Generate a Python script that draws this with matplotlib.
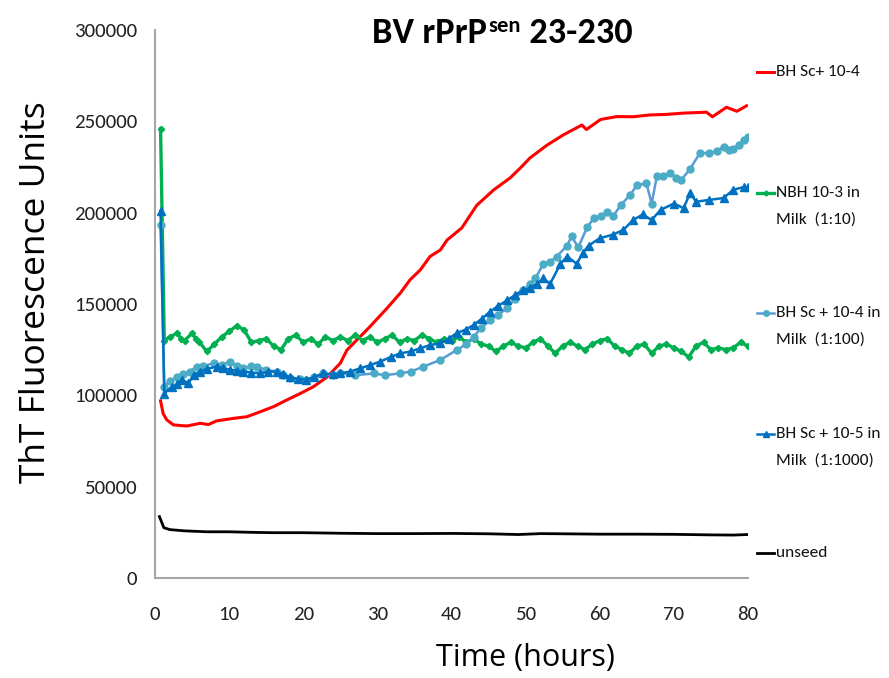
"""
plot.py - ThT fluorescence kinetics, BV rPrPsen 23-230 seeded with milk dilutions.
"""

import matplotlib
import matplotlib.pyplot as plt
from matplotlib.lines import Line2D

matplotlib.use("Agg")

# ---- data (values in fluorescence units) ----
RED_T = [0.75, 1.1, 1.6, 2.5, 4.3, 6.1, 7.2, 8.3, 10.6, 12.4, 14.2, 16.0, 17.8,
         19.6, 21.4, 23.2, 25.0, 25.9, 27.4, 29.0, 31.3, 33.1, 34.4, 35.8, 37.1,
         38.5, 39.4, 41.4, 43.4, 45.7, 47.9, 49.3, 50.6, 52.9, 55.1, 57.6, 58.2,
         60.1, 62.3, 64.5, 66.8, 69.0, 71.3, 74.4, 75.2, 77.1, 78.5, 79.8]
RED_Y = [97000, 90000, 86500, 83800, 83200, 84700, 84000, 86000, 87400, 88300,
         91000, 93800, 97500, 101000, 104800, 110000, 117600, 124800, 131000,
         137600, 147700, 156000, 163200, 168700, 176000, 179600, 185000, 191700,
         204000, 212500, 219000, 224500, 230000, 237000, 242600, 248000, 245500,
         251000, 252600, 252500, 253500, 253800, 254500, 255000, 252500, 257700,
         255500, 258500]

GREEN_T = [0.75, 1.25, 2, 3, 3.5, 4, 5, 5.5, 6, 7, 8, 9, 10, 11, 12, 13, 14, 15,
           16, 17, 18, 19, 20, 21, 22, 23, 24, 25, 26, 27, 28, 29, 30, 31, 32,
           33, 34, 35, 36, 37, 38, 39, 40, 41, 42, 43, 44, 45, 46, 47, 48, 49,
           50, 51, 52, 53, 54, 55, 56, 57, 58, 59, 60, 61, 62, 63, 64, 65, 66,
           67, 68, 69, 70, 71, 72, 73, 74, 75, 76, 77, 78, 79, 80]
GREEN_Y = [246000, 130000, 132000, 134000, 131000, 130000, 134000, 131000, 129000,
           124000, 128000, 132000, 135000, 138000, 136000, 129000, 130000, 131000,
           127000, 125000, 131000, 133000, 129000, 131000, 128000, 132000, 130000,
           132000, 130000, 133000, 130000, 132000, 129000, 131000, 133000, 129000,
           131000, 130000, 133000, 131000, 129000, 131000, 130000, 132000, 129000,
           131000, 128000, 127000, 124000, 127000, 129000, 127000, 126000, 129000,
           131000, 127000, 123000, 127000, 129000, 127000, 125000, 128000, 130000,
           131000, 127000, 125000, 123000, 127000, 128000, 123000, 127000, 128000,
           126000, 124000, 121000, 127000, 129000, 125000, 126000, 125000, 126000,
           129000, 127000]

LBLUE_T = [0.75, 1.25, 2, 3, 3.8, 4.7, 5.6, 6.5, 7.9, 9, 10.1, 11, 11.9, 13, 13.7,
           15, 16.4, 17.3, 18.2, 19.5, 20.4, 21.5, 22.7, 24, 25, 27, 29.5, 31,
           33, 34.5, 36.2, 38.5, 40.7, 42, 43, 44, 45.2, 46.3, 47.5, 48.6, 49.7,
           50.6, 51.3, 52.4, 53.3, 54.2, 55.6, 56.2, 57.1, 58.3, 59.2, 60.2, 61,
           61.8, 62.8, 64.1, 65, 66.3, 67, 67.7, 68.6, 69.5, 70.3, 71, 72.2, 73.5,
           74.8, 75.8, 76.7, 77.4, 78, 78.8, 79.4, 80]
LBLUE_Y = [193000, 104800, 108000, 110000, 111500, 113000, 115700, 116000, 117600,
           116500, 118500, 116000, 114800, 116000, 115700, 114000, 113000, 111000,
           109300, 109000, 108500, 110000, 112000, 111000, 112000, 111000, 112000,
           111000, 112000, 113000, 115700, 119400, 124800, 128000, 132000, 137000,
           141000, 144000, 147700, 153000, 157700, 161000, 164000, 172000, 173000,
           176000, 182000, 187000, 181000, 192000, 197000, 198000, 200600, 198000,
           204000, 209700, 215000, 216000, 205000, 219800, 220000, 221600, 219000,
           218000, 224000, 232600, 232600, 234000, 236000, 234500, 235000, 237000,
           239800, 241600]

DBLUE_T = [0.75, 1.25, 2.3, 3.0, 3.6, 4.5, 5.2, 6.1, 7, 8.3, 9.2, 10.1, 11, 11.9,
           13, 14.2, 15.3, 16.4, 17.3, 18.2, 19.3, 20.4, 21.5, 22.7, 24, 25, 26.3,
           27.7, 29, 30.4, 31.8, 33.1, 34.5, 35.8, 37.1, 38.5, 39.6, 40.7, 41.9,
           43, 44.1, 45.2, 46.3, 47.5, 48.6, 49.7, 50.6, 51.5, 52.4, 53.3, 54.7,
           55.6, 56.9, 57.7, 58.5, 60, 61.8, 63.2, 64.5, 65.8, 67, 68.2, 70, 71.3,
           72.2, 73, 74.8, 76.7, 78, 79.4, 80]
DBLUE_Y = [201000, 101000, 104800, 106000, 108500, 106600, 111000, 113000, 114500,
           115700, 115000, 114000, 113500, 113000, 112500, 112000, 113000, 113000,
           111500, 110000, 109000, 108500, 110000, 112000, 111500, 112000, 113000,
           114800, 116500, 118500, 121000, 123000, 124000, 125800, 127500, 128500,
           131000, 134000, 136000, 138500, 142000, 145800, 149000, 152000, 155000,
           157700, 158600, 161000, 164000, 161000, 172000, 176000, 172000, 178000,
           182000, 186000, 188000, 190600, 196000, 199000, 196000, 201500, 205000,
           202500, 210700, 206000, 207000, 208000, 212500, 214000, 214000]

BLACK_T = [0.6, 1.2, 2, 4, 7, 10, 13, 16, 20, 25, 30, 35, 40, 45, 49, 52, 55, 60,
           65, 70, 75, 78, 80]
BLACK_Y = [33600, 27500, 26500, 25800, 25300, 25300, 25000, 24800, 24800, 24500,
           24300, 24300, 24400, 24200, 23800, 24300, 24200, 24000, 24000, 23900,
           23600, 23500, 23800]

LABELS = ["BH Sc+ 10-4", "NBH 10-3 in\nMilk  (1:10)", "BH Sc + 10-4 in\nMilk  (1:100)",
          "BH Sc + 10-5 in\nMilk  (1:1000)", "unseed"]
X_TICKS = [0, 10, 20, 30, 40, 50, 60, 70, 80]
Y_TICKS = [0, 50000, 100000, 150000, 200000, 250000, 300000]

# Calibri-like narrow faces first; missing ones are skipped
NARROW = ["Carlito", "Archivo Narrow", "PT Sans Narrow", "Roboto Condensed", "DejaVu Sans"]
TITLE_FONT = ["Carlito", "DejaVu Sans"]
AXIS_FONT = ["Open Sans", "DejaVu Sans"]

fig = plt.figure(figsize=(8.89, 6.78), dpi=100)
ax = fig.add_axes([155 / 889, 100 / 678, 593 / 889, 548 / 678])

styles = [
    dict(color="#FF0000", lw=2.2),
    dict(color="#00B050", lw=2.4, marker="D", ms=3.2, mfc="#00B050", mec="#00B050"),
    dict(color="#5B9BD5", lw=1.8, marker="o", ms=5, mfc="#4BACC6", mec="#4BACC6"),
    dict(color="#0070C0", lw=1.8, marker="^", ms=5.5, mfc="#0070C0", mec="#0070C0"),
    dict(color="#000000", lw=2.0),
]
series = [(RED_T, RED_Y), (GREEN_T, GREEN_Y), (LBLUE_T, LBLUE_Y),
          (DBLUE_T, DBLUE_Y), (BLACK_T, BLACK_Y)]

for (t, y), st in zip(series, styles):
    ax.plot(t, y, **st)

ax.set_xlim(0, 80)
ax.set_ylim(0, 300000)
ax.set_xticks(X_TICKS)
ax.set_yticks(Y_TICKS)
ax.tick_params(length=0)
ax.tick_params(axis="x", pad=20)
ax.tick_params(axis="y", pad=13)
for lab in ax.get_xticklabels() + ax.get_yticklabels():
    lab.set_family(NARROW)
    lab.set_fontsize(15)
    lab.set_color("#222222")

for side in ("top", "right"):
    ax.spines[side].set_visible(False)
for side in ("left", "bottom"):
    ax.spines[side].set_color("#A6A6A6")
    ax.spines[side].set_linewidth(1.5)

# axis titles
fig.text(36 / 889, 1 - 292 / 678, "ThT Fluorescence Units", rotation=90,
         ha="center", va="center", fontsize=25.5, family=AXIS_FONT)
fig.text(525 / 889, 1 - 658 / 678, "Time (hours)", ha="center", va="center",
         fontsize=22, family=AXIS_FONT)

# title with superscript, scaled so it spans the same width as the reference
fig.canvas.draw()
renderer = fig.canvas.get_renderer()
base_y = 1 - 43 / 678


def draw_title(size):
    t1 = fig.text(372 / 889, base_y, "BV rPrP", fontsize=size, fontweight="bold",
                  family=TITLE_FONT, va="baseline")
    bb = t1.get_window_extent(renderer)
    t2 = fig.text(bb.x1 / 889 + 0.002, base_y + 0.42 * size / 678, "sen",
                  fontsize=size * 0.62, fontweight="bold", family=TITLE_FONT,
                  va="baseline")
    bb2 = t2.get_window_extent(renderer)
    t3 = fig.text(bb2.x1 / 889, base_y, " 23-230", fontsize=size, fontweight="bold",
                  family=TITLE_FONT, va="baseline")
    return [t1, t2, t3], t3.get_window_extent(renderer).x1 - 372


parts, width = draw_title(28)
for p in parts:
    p.remove()
draw_title(28 * 260 / width)

# legend, placed manually next to the plot
legend_rows = [72, 193, 313, 434, 553]
for label, st, row in zip(LABELS, styles, legend_rows):
    yf = 1 - row / 678
    fig.add_artist(Line2D([757 / 889, 774 / 889], [yf, yf], transform=fig.transFigure,
                          color=st["color"], lw=st["lw"]))
    if "marker" in st:
        fig.add_artist(Line2D([765.5 / 889], [yf], transform=fig.transFigure,
                              ls="none", marker=st["marker"], ms=st["ms"] * 0.8,
                              mfc=st["mfc"], mec=st["mec"]))
    fig.text(776 / 889, yf + 7 / 678, label, ha="left", va="top", fontsize=12.5,
             family=NARROW, linespacing=2.05, color="#111111")

fig.savefig("out.png", dpi=100)
plt.close(fig)
